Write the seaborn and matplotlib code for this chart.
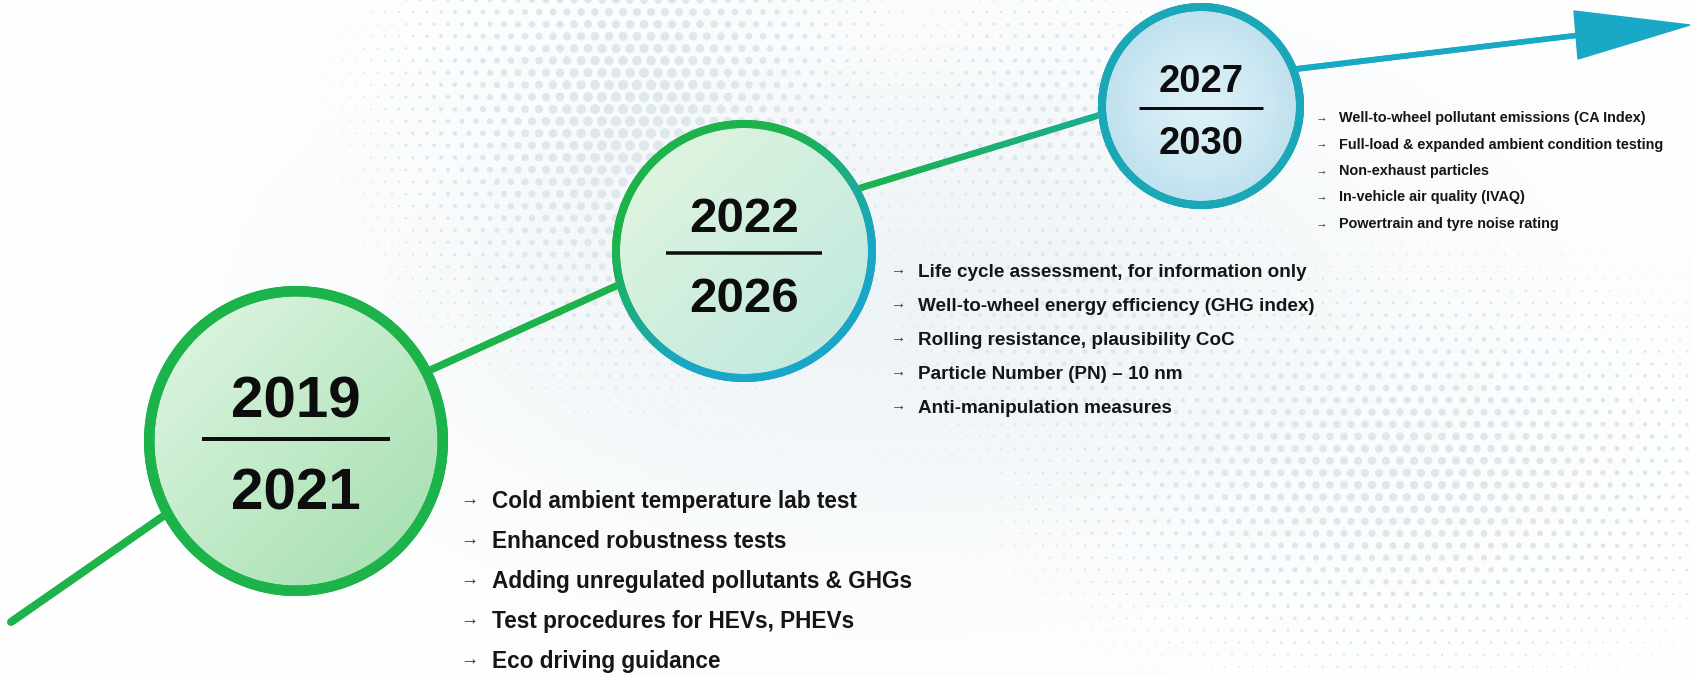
import numpy as np
import matplotlib
matplotlib.use("Agg")
import matplotlib.pyplot as plt
from matplotlib.patches import Ellipse, Polygon
from matplotlib.collections import LineCollection
import seaborn as sns

# ---- chart content ----
period_start = ["2019", "2022", "2027"]
period_end = ["2021", "2026", "2030"]

items_2019 = [
    "Cold ambient temperature lab test",
    "Enhanced robustness tests",
    "Adding unregulated pollutants & GHGs",
    "Test procedures for HEVs, PHEVs",
    "Eco driving guidance",
]
items_2022 = [
    "Life cycle assessment, for information only",
    "Well-to-wheel energy efficiency (GHG index)",
    "Rolling resistance, plausibility CoC",
    "Particle Number (PN) \u2013 10 nm",
    "Anti-manipulation measures",
]
items_2027 = [
    "Well-to-wheel pollutant emissions (CA Index)",
    "Full-load & expanded ambient condition testing",
    "Non-exhaust particles",
    "In-vehicle air quality (IVAQ)",
    "Powertrain and tyre noise rating",
]
item_lists = [items_2019, items_2022, items_2027]

# ---- layout (pixels, origin top-left) ----
W, H = 1691, 675
circle_cx = [296, 744, 1201]
circle_cy = [441, 251, 106]
circle_rx = [152, 132, 103]
circle_ry = [155, 131, 103]
ring_px = [10.5, 8, 8]
year_size = [42, 35.5, 27.5]
year_top_base = [417, 232, 92]
year_bot_base = [510, 312, 154]
rule_y = [439, 253, 108]
rule_half = [94, 78, 62]
rule_px = [4, 3.5, 3]
list_arrow_x = [460, 891, 1316]
list_text_x = [492, 918, 1339]
list_base0 = [508, 277, 122]
list_step = [40, 34, 26.5]
list_size = [16.3, 13.6, 10.4]

# bends of the path sit inside the circles
path_x = [11, 267, 775, 1221, 1580]
path_y = [622, 444, 214, 78, 35]

GREEN = "#1db34b"
TEAL = "#19a8c6"
RING3 = "#1aa7b8"
PX = 0.72  # points per pixel at dpi 100

sns.set_theme(style="white")
plt.rcParams["font.family"] = ["Liberation Sans", "DejaVu Sans"]

fig = plt.figure(figsize=(W / 100, H / 100), dpi=100)
ax = fig.add_axes([0, 0, 1, 1])
ax.set_xlim(0, W)
ax.set_ylim(H, 0)
ax.axis("off")

# ---- soft background tint + halftone dots ----
gx, gy = np.meshgrid(np.linspace(0, W, 340), np.linspace(0, H, 135))


def blob(x, y, cx, cy, sx, sy):
    return np.exp(-(((x - cx) / sx) ** 2 + ((y - cy) / sy) ** 2))


tint = np.clip(blob(gx, gy, 900, 300, 520, 260) * 0.9, 0, 1)
bg_cmap = sns.blend_palette(["#ffffff", "#edf3f6"], as_cmap=True)
ax.imshow(tint, extent=(0, W, H, 0), cmap=bg_cmap, vmin=0, vmax=1,
          zorder=0, aspect="auto")

step = 14
rows = []
for j, yy in enumerate(np.arange(0, H + step, step * 0.866)):
    xs = np.arange(0, W + step, step) + (j % 2) * step / 2
    rows.append(np.column_stack([xs, np.full_like(xs, yy)]))
dots = np.vstack(rows)
dens = np.maximum.reduce([
    blob(dots[:, 0], dots[:, 1], 640, 120, 210, 220),
    0.8 * blob(dots[:, 0], dots[:, 1], 1400, 470, 320, 170),
    0.55 * blob(dots[:, 0], dots[:, 1], 1050, 120, 160, 130),
    0.5 * blob(dots[:, 0], dots[:, 1], 1100, 320, 200, 160),
])
ax.scatter(dots[:, 0], dots[:, 1], s=(dens * 7.5) ** 2, color="#dee7eb",
           linewidths=0, zorder=1)

# ---- timeline path, green to teal ----
xs = np.linspace(path_x[0], path_x[-1], 600)
ys = np.interp(xs, path_x, path_y)
pts = np.column_stack([xs, ys]).reshape(-1, 1, 2)
segs = np.concatenate([pts[:-1], pts[1:]], axis=1)
pal = sns.blend_palette([GREEN, TEAL], n_colors=101)
mid = (xs[:-1] + xs[1:]) / 2
t = np.clip((mid - 860) / 420, 0, 1)
seg_colors = [pal[int(v * 100)] for v in t]
widths = np.interp(mid, [0, 1580], [8, 5.5]) * PX
ax.add_collection(LineCollection(segs, colors=seg_colors, linewidths=widths,
                                 capstyle="round", joinstyle="round", zorder=2))
ax.add_patch(Polygon([[1574, 11], [1578, 59], [1690, 25]], closed=True,
                     facecolor=TEAL, edgecolor=TEAL, lw=1, zorder=3))

# ---- period circles ----
fills = [("#d6f2da", "#ade2b7"), ("#dcf3de", "#c4eadf"), ("#dcf0f8", "#bcdfed")]
for k in range(3):
    cx, cy, rx, ry = circle_cx[k], circle_cy[k], circle_rx[k], circle_ry[k]
    inner = Ellipse((cx, cy), 2 * rx, 2 * ry, facecolor="none",
                    edgecolor="none", zorder=4)
    ax.add_patch(inner)
    ux, uy = np.meshgrid(np.linspace(-1, 1, 200), np.linspace(-1, 1, 200))
    if k == 2:
        grad = np.clip(np.hypot(ux, uy), 0, 1) ** 1.5
    else:
        grad = np.clip((ux + uy) / 2.4 + 0.5, 0, 1)
    cmap = sns.blend_palette(list(fills[k]), as_cmap=True)
    im = ax.imshow(grad, extent=(cx - rx, cx + rx, cy + ry, cy - ry),
                   cmap=cmap, vmin=0, vmax=1, zorder=4, aspect="auto")
    im.set_clip_path(inner)

    # ring, coloured by angle for the middle circle
    th = np.linspace(0, 2 * np.pi, 361)
    r_off = ring_px[k] / 2
    ex = cx + (rx - r_off) * np.cos(th)
    ey = cy - (ry - r_off) * np.sin(th)
    rp = np.column_stack([ex, ey]).reshape(-1, 1, 2)
    rsegs = np.concatenate([rp[:-1], rp[1:]], axis=1)
    if k == 0:
        rcol = [GREEN] * len(rsegs)
    elif k == 1:
        tm = (th[:-1] + th[1:]) / 2
        w = (1 - np.cos(tm - np.radians(125))) / 2
        w = np.clip((w - 0.2) / 0.55, 0, 1)
        rp_pal = sns.blend_palette([GREEN, "#1aa6c9"], n_colors=101)
        rcol = [rp_pal[int(v * 100)] for v in w]
    else:
        rcol = [RING3] * len(rsegs)
    ax.add_collection(LineCollection(rsegs, colors=rcol,
                                     linewidths=ring_px[k] * PX,
                                     capstyle="round", zorder=5))

    ax.text(cx, year_top_base[k], period_start[k], ha="center", va="baseline",
            fontsize=year_size[k], fontweight="bold", color="#0d0d0d", zorder=6)
    ax.text(cx, year_bot_base[k], period_end[k], ha="center", va="baseline",
            fontsize=year_size[k], fontweight="bold", color="#0d0d0d", zorder=6)
    ax.plot([cx - rule_half[k], cx + rule_half[k]], [rule_y[k], rule_y[k]],
            color="#0d0d0d", lw=rule_px[k] * PX, solid_capstyle="butt", zorder=6)

# ---- bullet lists ----
for k, items in enumerate(item_lists):
    for i, label in enumerate(items):
        yb = list_base0[k] + i * list_step[k]
        ax.text(list_arrow_x[k], yb - list_size[k] * 0.22, "\u2192", ha="left",
                va="baseline", fontsize=list_size[k] * 0.8, color="#333333",
                zorder=6)
        ax.text(list_text_x[k], yb, label, ha="left", va="baseline",
                fontsize=list_size[k], fontweight="bold", color="#151515",
                zorder=6)

fig.savefig("out.png", dpi=100)
